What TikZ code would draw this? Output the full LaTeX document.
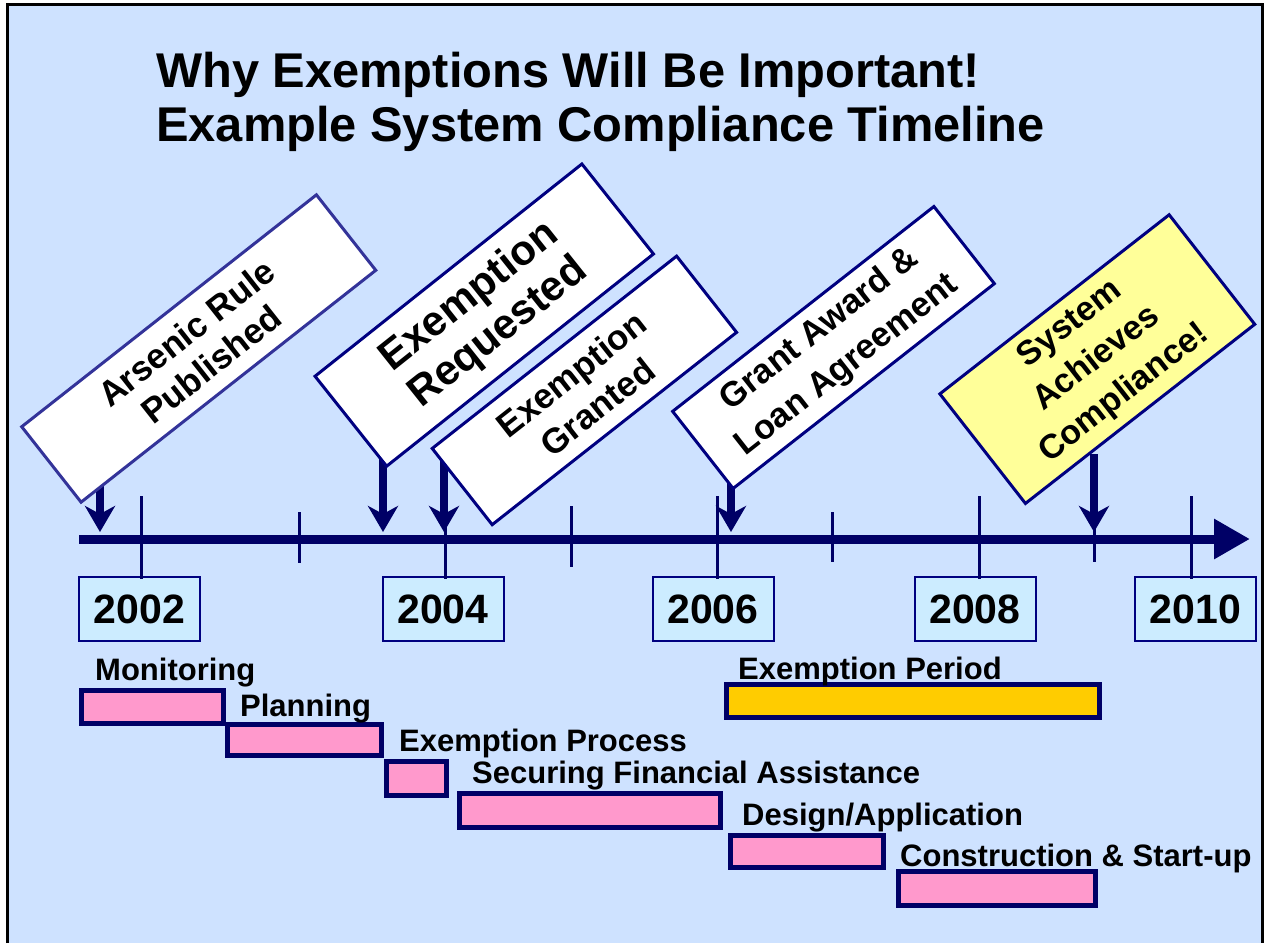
\documentclass[tikz,border=0pt]{standalone}
\usepackage{fontspec}
\setmainfont{Liberation Sans}
\usetikzlibrary{arrows.meta,positioning,calc}
\pgfdeclarelayer{behind}
\pgfsetlayers{behind,main}
\definecolor{bgblue}{RGB}{206,226,255}
\definecolor{yearfill}{RGB}{204,236,255}
\definecolor{navy}{RGB}{0,0,102}
\definecolor{boxline}{RGB}{0,0,128}
\definecolor{paleline}{RGB}{51,51,153}
\definecolor{barpink}{RGB}{255,153,204}
\definecolor{bargold}{RGB}{255,204,0}
\definecolor{paleyellow}{RGB}{255,255,153}

\begin{document}
\begin{tikzpicture}[x=1pt, y=-1pt,
  event box/.style={rectangle, draw=boxline, line width=3pt, fill=white, align=center, inner sep=0pt},
  event arrow/.style={draw=navy, line width=7.5pt, -{Stealth[length=26pt,width=30pt,inset=8pt]}},
  tick/.style={navy, line width=3pt},
  year box/.style={rectangle, draw=boxline, line width=2pt, fill=yearfill, minimum width=121pt, minimum height=64pt, inner sep=0pt, font=\fontsize{41}{45}\selectfont\bfseries},
  bar/.style={draw=navy, line width=5pt, fill=barpink},
  bar label/.style={anchor=base west, inner sep=0pt, font=\fontsize{31}{35}\selectfont\bfseries}]
\useasboundingbox (0,0) rectangle (1264,943);
% frame
\begin{pgfonlayer}{behind}
\fill[white] (0,0) rectangle (1264,943);
\fill[bgblue] (7,4) rectangle (1262,943);
\end{pgfonlayer}
\draw[line width=3pt] (7,943) -- (7,4) -- (1262,4) -- (1262,943);

% title
\begin{scope}[every node/.style={anchor=base west, inner sep=0pt, font=\fontsize{48.8}{55}\selectfont\bfseries}]
\node (title1) at (156,87.5) {Why Exemptions Will Be Important!};
\node (title2) at (156,141.5) {Example System Compliance Timeline};
\end{scope}

% time axis
\coordinate (axstart) at (79,539);
\coordinate (axend) at (1250,539);
\draw[navy, line width=9pt, -{Triangle[length=36pt,width=38pt]}] (axstart) -- (axend);
\foreach \yr/\tx/\bx in {2002/141/139.5, 2004/445/443, 2006/717/713, 2008/979/975, 2010/1191/1195.5}{
  \node[year box] (y\yr) at (\bx,609) {\yr};
  \draw[tick] (\tx,496) -- (\tx,579);
}
\foreach \tx/\ta/\tb in {299/512/563, 571/506/567, 832/512/562, 1094/512/562}
  \draw[tick] (\tx,\ta) -- (\tx,\tb);

% events
\node[event box, draw=paleline, rotate=38.2, minimum width=375pt, minimum height=96pt, font=\fontsize{35}{40}\selectfont\bfseries] (arsenic) at (198.75,348.5) {Arsenic Rule\\Published};
\node[event box, rotate=38.5, minimum width=341pt, minimum height=115pt, font=\fontsize{42}{46}\selectfont\bfseries] (requested) at (484.25,315.1) {Exemption\\Requested};
\node[event box, rotate=38.2, minimum width=311pt, minimum height=97pt, font=\fontsize{35}{42}\selectfont\bfseries] (granted) at (584.4,390.4) {Exemption\\Granted};
\node[event box, rotate=38.1, minimum width=332pt, minimum height=98pt, font=\fontsize{34.5}{45}\selectfont\bfseries] (grant) at (833.5,347.5) {Grant Award \&\\Loan Agreement};
\node[event box, fill=paleyellow, rotate=38, minimum width=291pt, minimum height=139pt, font=\fontsize{34}{44}\selectfont\bfseries] (comply) at (1097.3,359.1) {System\\Achieves\\Compliance!};

\coordinate (t1) at (100,532);
\coordinate (t2) at (383,532);
\coordinate (t3) at (444,532);
\coordinate (t4) at (731,532);
\coordinate (t5) at (1094,532);
\begin{pgfonlayer}{behind}
\draw[event arrow] (t1 |- arsenic.west) -- (t1);
\draw[event arrow] (t2 |- requested.west) -- (t2);
\draw[event arrow] (t3 |- granted.north west) -- (t3);
\draw[event arrow] (t4 |- grant.west) -- (t4);
\end{pgfonlayer}
\draw[event arrow] ($(t5 |- comply.south)+(0,39)$) -- (t5);

% schedule bars
\draw[bar] (81.5,690.5) rectangle (223.5,723.5);
\draw[bar] (227.5,724.5) rectangle (381.5,755.5);
\draw[bar] (386.5,761.5) rectangle (446.5,795.5);
\draw[bar] (459.5,793.5) rectangle (720.5,827.5);
\draw[bar] (730.5,835.5) rectangle (883.5,867.5);
\draw[bar] (898.5,871.5) rectangle (1095.5,905.5);
\draw[bar, fill=bargold] (726.5,684.5) rectangle (1099.5,717.5);
\node[bar label] (monitoring) at (95,680) {Monitoring};
\node[bar label] (planning) at (240,716) {Planning};
\node[bar label] (process) at (399,751.5) {Exemption Process};
\node[bar label] (securing) at (472,783.5) {Securing Financial Assistance};
\node[bar label] (design) at (742,825.5) {Design/Application};
\node[bar label] (construction) at (900,866.5) {Construction \& Start-up};
\node[bar label] (period) at (738,679.5) {Exemption Period};
\end{tikzpicture}
\end{document}
